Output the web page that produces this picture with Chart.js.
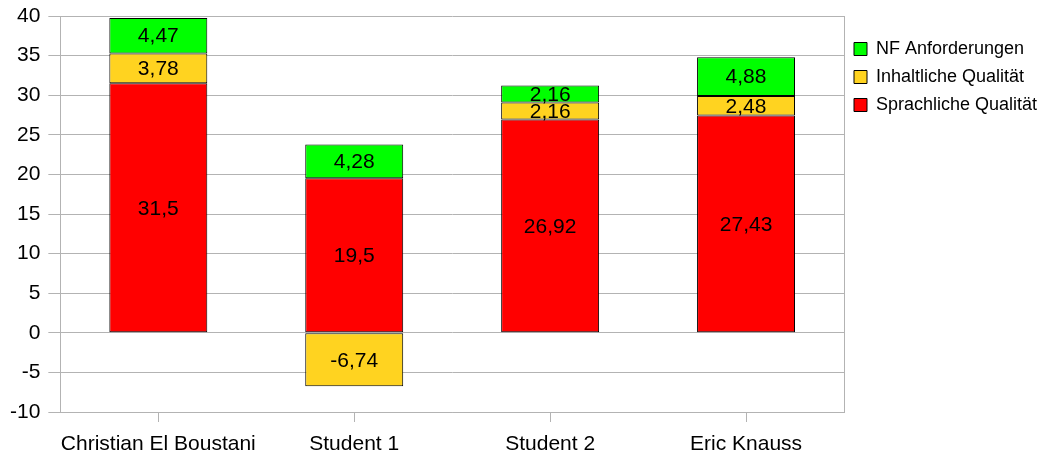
<!DOCTYPE html>
<html>
<head>
<meta charset="utf-8">
<script src="https://cdn.jsdelivr.net/npm/chart.js@4.4.0/dist/chart.umd.min.js"></script>
<style>
  html, body { margin: 0; padding: 0; background: #fff; }
</style>
</head>
<body>
<canvas id="chart" width="1044" height="456"></canvas>
<script>
// Data
const categories = ['Christian El Boustani', 'Student 1', 'Student 2', 'Eric Knauss'];
const sprachliche = [31.5, 19.5, 26.92, 27.43];
const inhaltliche = [3.78, -6.74, 2.16, 2.48];
const nfAnforderungen = [4.47, 4.28, 2.16, 4.88];
const yMin = -10, yMax = 40, yStep = 5;

const FONT = '"Liberation Sans", Arial, sans-serif';
const GRID = '#b3b3b3';

// right edge of the plot frame
const plotFrame = {
  id: 'plotFrame',
  beforeDatasetsDraw(chart) {
    const { ctx, chartArea: a } = chart;
    const x = Math.round(a.right) + 0.5;
    ctx.save();
    ctx.strokeStyle = GRID;
    ctx.lineWidth = 1;
    ctx.beginPath();
    ctx.moveTo(x, Math.round(a.top));
    ctx.lineTo(x, Math.round(a.bottom) + 1);
    ctx.stroke();
    ctx.restore();
  }
};

// value labels in the middle of each segment
const valueLabels = {
  id: 'valueLabels',
  afterDatasetsDraw(chart) {
    const ctx = chart.ctx;
    ctx.save();
    ctx.font = '21px ' + FONT;
    ctx.fillStyle = '#000';
    ctx.textAlign = 'center';
    ctx.textBaseline = 'middle';
    chart.data.datasets.forEach((ds, i) => {
      chart.getDatasetMeta(i).data.forEach((bar, j) => {
        const c = bar.getCenterPoint();
        ctx.fillText(String(ds.data[j]).replace('.', ','), c.x, c.y + 1);
      });
    });
    ctx.restore();
  }
};

new Chart(document.getElementById('chart'), {
  type: 'bar',
  data: {
    labels: categories,
    datasets: [
      { label: 'Sprachliche Qualität', data: sprachliche, backgroundColor: '#ff0000' },
      { label: 'Inhaltliche Qualität', data: inhaltliche, backgroundColor: '#ffd320' },
      { label: 'NF Anforderungen', data: nfAnforderungen, backgroundColor: '#00ff00' }
    ].map(d => Object.assign(d, {
      borderColor: '#000',
      borderWidth: 1,
      borderSkipped: false,
      barPercentage: 0.5,
      categoryPercentage: 1
    }))
  },
  options: {
    responsive: false,
    animation: false,
    layout: { padding: { left: 2, top: 0, right: 0, bottom: 0 } },
    plugins: {
      tooltip: { enabled: false },
      legend: {
        position: 'right',
        align: 'start',
        reverse: true,
        maxWidth: 200,
        title: { display: true, text: '', font: { size: 12, lineHeight: 1 }, padding: { top: 0, bottom: 18 } },
        labels: { boxWidth: 13, boxHeight: 13, padding: 10, color: '#000', font: { size: 18, family: FONT } }
      }
    },
    scales: {
      x: {
        stacked: true,
        grid: { offset: false, drawOnChartArea: false, drawTicks: true, tickLength: 10, color: GRID },
        border: { color: GRID },
        ticks: { color: '#000', padding: 10, maxRotation: 0, minRotation: 0, autoSkip: false, font: { size: 21, family: FONT } },
        afterFit(scale) { scale.height = 44; }
      },
      y: {
        stacked: true,
        min: yMin,
        max: yMax,
        grid: { color: GRID, tickLength: 12 },
        border: { color: GRID },
        ticks: { stepSize: yStep, color: '#000', padding: 8, font: { size: 21, family: FONT } },
        afterFit(scale) { scale.paddingTop = 16; }
      }
    }
  },
  plugins: [plotFrame, valueLabels]
});
</script>
</body>
</html>
